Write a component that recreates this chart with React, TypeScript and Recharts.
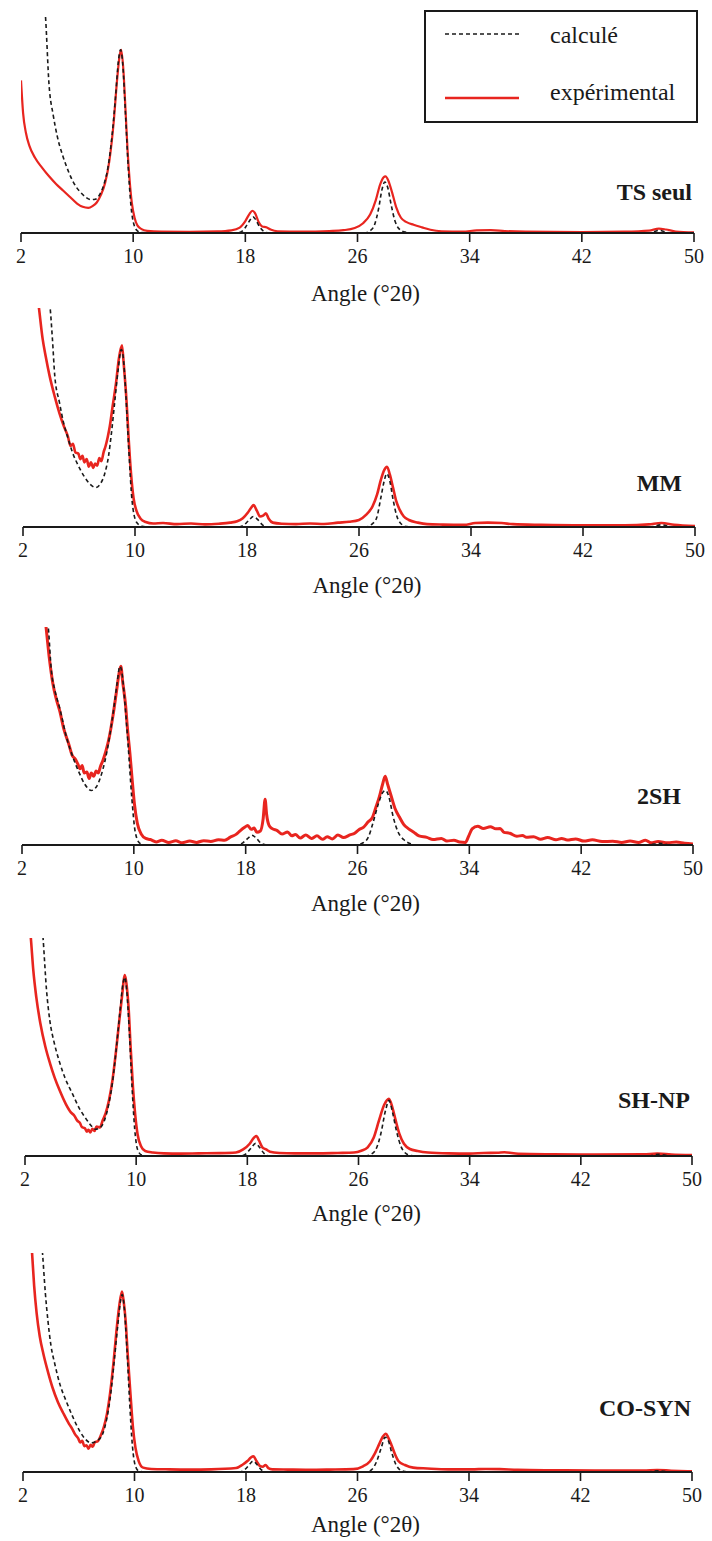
import { LineChart, Line, XAxis, YAxis, Legend } from "recharts";

type Pt = [number, number];

// x axis: angle in °2θ; y: relative intensity, 100 = top of the plot frame
const ANGLE_TICKS = [2, 10, 18, 26, 34, 42, 50];
const X_TITLE = "Angle (°2θ)";
const CALC_NAME = "calculé";
const EXP_NAME = "expérimental";
const SAMPLE_NAMES = ["TS seul", "MM", "2SH", "SH-NP", "CO-SYN"];

const tsExp: Pt[] = [
  [2.0, 70], [2.15, 55], [2.35, 46], [2.6, 40], [3.0, 34.5], [3.5, 30], [4.0, 26], [4.5, 22.5],
  [5.0, 19.5], [5.5, 16.5], [6.0, 13.5], [6.4, 12], [6.8, 11.5], [7.1, 12.3], [7.4, 14], [7.7, 17.5],
  [8.0, 23], [8.3, 33], [8.6, 50], [8.85, 70], [9.05, 82], [9.15, 84], [9.3, 75], [9.45, 57],
  [9.6, 38], [9.75, 24], [9.9, 14], [10.1, 7], [10.3, 3.5], [10.6, 1.8], [11.0, 1.0], [12, 0.6],
  [14, 0.5], [16, 0.7], [17, 1.2], [17.6, 2.5], [18.0, 5.5], [18.3, 8.8], [18.5, 10.2], [18.7, 9],
  [18.95, 5], [19.2, 3], [19.5, 2.6], [19.8, 1.6], [20.3, 0.8], [22, 0.6], [24, 0.9], [25, 1.3],
  [25.8, 2.3], [26.4, 4.5], [26.9, 8.5], [27.3, 15], [27.6, 22], [27.85, 25.5], [28.0, 26], [28.2, 24],
  [28.45, 19], [28.75, 12], [29.1, 7], [29.5, 5], [30.0, 3.8], [30.6, 2.6], [31.2, 1.5], [32, 0.8],
  [33.5, 0.6], [34.5, 1.2], [35.5, 1.3], [36.5, 0.9], [38, 0.6], [42, 0.4], [45, 0.6], [46.8, 1.1],
  [47.5, 2], [48, 1.6], [48.7, 0.7], [50, 0.3],
];
const tsCalc: Pt[] = [
  [3.5, 115], [3.74, 100], [4.0, 68], [4.3, 54], [4.6, 44], [5.0, 35], [5.4, 28], [5.8, 22.5],
  [6.2, 19], [6.6, 16.5], [7.0, 15.3], [7.3, 15.5], [7.6, 17.5], [7.9, 22], [8.2, 30], [8.5, 45],
  [8.75, 63], [8.95, 79], [9.1, 84], [9.25, 78], [9.45, 55], [9.65, 30], [9.85, 12], [10.05, 4],
  [10.3, 1], [10.6, 0.2], [12, 0], [17.4, 0], [17.8, 1], [18.1, 3.5], [18.4, 6.5], [18.55, 7.4],
  [18.75, 6], [19.0, 3], [19.3, 0.8], [19.7, 0], [26.5, 0], [26.9, 1], [27.2, 3.5], [27.5, 11],
  [27.75, 20], [27.95, 23.4], [28.15, 21], [28.4, 13], [28.65, 6], [28.95, 2], [29.4, 0.4], [30, 0],
  [46.8, 0], [47.5, 1.2], [48.3, 0], [50, 0],
];

const mmExp: Pt[] = [
  [2.9, 112], [3.14, 100], [3.4, 86], [3.62, 78], [3.9, 69], [4.27, 59.5], [4.6, 52], [4.92, 46],
  [5.2, 41.5], [5.4, 37], [5.56, 38], [5.75, 34], [5.95, 33.5], [6.1, 31], [6.25, 32.5], [6.38, 29.5],
  [6.55, 31], [6.7, 27.5], [6.85, 29.5], [7.02, 27], [7.15, 29], [7.3, 28], [7.45, 31.5], [7.6, 30],
  [7.75, 34], [7.9, 37], [8.05, 41], [8.2, 46], [8.4, 55], [8.65, 66], [8.85, 77], [9.07, 83],
  [9.2, 74], [9.39, 58], [9.55, 40], [9.72, 24], [9.9, 13], [10.1, 7.5], [10.4, 3.8], [10.76, 2.3],
  [11.3, 1.6], [12, 1.8], [13, 1.3], [14, 1.6], [15, 1.2], [16, 1.5], [16.8, 2], [17.3, 2.6],
  [17.7, 4], [18.05, 6.5], [18.3, 8.8], [18.47, 10], [18.7, 7.5], [18.93, 4.8], [19.15, 5.2], [19.35, 6.2],
  [19.55, 3.8], [19.84, 2], [20.5, 1.5], [21.5, 1.3], [22.5, 1.6], [23.5, 1.4], [24.5, 2], [25.3, 2.4],
  [26.0, 3.2], [26.5, 5.5], [26.97, 9.5], [27.3, 15], [27.56, 21.5], [27.8, 26], [28.0, 27.5], [28.2, 24],
  [28.43, 18], [28.65, 12], [28.91, 7.8], [29.2, 4.8], [29.56, 3.2], [30.2, 2], [30.86, 1.3], [32, 1.1],
  [33.5, 1], [34.3, 1.8], [35.2, 2], [36.2, 1.8], [37, 1.3], [39, 1], [42, 0.8], [45, 0.8],
  [46.7, 1.2], [47.6, 1.8], [48.5, 1], [50, 0.4],
];
const mmCalc: Pt[] = [
  [3.7, 112], [3.94, 100], [4.1, 86], [4.27, 69], [4.6, 57], [4.92, 47], [5.24, 40], [5.56, 33.6],
  [5.95, 28], [6.38, 23], [6.8, 19.5], [7.19, 18], [7.5, 19.5], [7.84, 24.4], [8.1, 32], [8.32, 43],
  [8.55, 57], [8.8, 72], [9.02, 81], [9.15, 78], [9.35, 60], [9.55, 36], [9.79, 12], [10.1, 2.3],
  [10.5, 0.3], [11, 0], [17.4, 0], [17.8, 1], [18.15, 3.2], [18.45, 4.8], [18.75, 3.5], [19.1, 1],
  [19.5, 0], [26.5, 0], [26.9, 1.2], [27.25, 4], [27.55, 13], [27.8, 21], [27.98, 24.4], [28.2, 21],
  [28.45, 12], [28.7, 5], [29.0, 1.5], [29.4, 0.2], [30, 0], [46.8, 0], [47.6, 1], [48.4, 0], [50, 0],
];

const shExp: Pt[] = [
  [3.5, 112], [3.72, 100], [3.95, 86], [4.21, 74], [4.45, 67], [4.69, 61.7], [5.0, 53], [5.34, 46.4],
  [5.6, 41], [5.8, 39.5], [5.99, 37.2], [6.15, 35], [6.3, 36.5], [6.45, 33], [6.64, 33.5], [6.8, 30.5],
  [6.95, 33], [7.13, 31.5], [7.3, 34], [7.45, 33], [7.61, 36], [7.8, 39], [8.0, 43], [8.26, 50],
  [8.5, 59], [8.75, 70], [8.95, 79], [9.07, 82], [9.2, 75], [9.4, 64.8], [9.55, 53], [9.72, 42],
  [9.88, 30], [10.04, 19], [10.25, 10], [10.53, 5], [10.85, 3], [11.18, 2.5], [11.6, 1.4], [12.0, 2.2],
  [12.5, 1.2], [13.0, 1.9], [13.45, 1], [14.0, 1.8], [14.5, 1.2], [15.0, 2], [15.5, 1.6], [16.05, 2.4],
  [16.5, 2.2], [16.9, 3.6], [17.34, 5], [17.6, 6.5], [17.9, 8], [18.15, 8.9], [18.4, 7.2], [18.6, 7.8],
  [18.8, 5.8], [19.05, 6.4], [19.25, 12], [19.39, 21], [19.5, 14], [19.68, 8.9], [19.9, 7.5], [20.26, 6.6],
  [20.6, 5], [21.0, 6], [21.3, 4.2], [21.56, 4.8], [21.9, 3.2], [22.3, 4.6], [22.7, 3], [23.1, 4.2],
  [23.5, 2.6], [23.83, 3.8], [24.2, 2.8], [24.6, 4.6], [25.0, 3.4], [25.45, 4.6], [25.8, 5.4], [26.1, 7],
  [26.42, 8.1], [26.75, 10.5], [27.07, 12.7], [27.3, 17], [27.56, 22], [27.8, 28], [27.98, 31.5], [28.15, 28],
  [28.43, 22], [28.7, 16.5], [29.01, 12.7], [29.3, 9.5], [29.66, 7.4], [30.0, 6], [30.4, 4.2], [30.96, 3.5],
  [31.4, 2.5], [32.0, 3], [32.4, 1.8], [32.9, 2.2], [33.3, 1.4], [33.72, 1.2], [33.95, 4], [34.2, 7.4],
  [34.6, 8.6], [35.0, 7.6], [35.5, 8.4], [35.9, 7.4], [36.2, 7.6], [36.48, 5.8], [36.9, 5.4], [37.4, 4],
  [37.8, 4.4], [38.09, 3.5], [38.6, 3.8], [39.1, 2.6], [39.6, 3.4], [40.2, 2.4], [40.6, 3], [41.0, 2.3],
  [41.6, 2.8], [42.2, 1.8], [42.8, 2.4], [43.5, 1.6], [44.26, 1.7], [44.9, 1.2], [45.5, 1.8], [46.1, 1.2],
  [46.6, 2.2], [47.0, 1], [47.5, 1.6], [48.2, 1], [48.8, 1.4], [49.4, 0.8], [50, 0.5],
];
const shCalc: Pt[] = [
  [3.65, 112], [3.88, 100], [4.1, 80], [4.35, 71], [4.69, 63], [5.2, 49], [5.66, 40], [6.1, 33],
  [6.48, 28], [6.96, 25], [7.3, 26.5], [7.61, 31], [7.95, 39], [8.26, 49.5], [8.55, 62], [8.8, 74],
  [9.0, 82], [9.15, 79], [9.35, 66], [9.6, 45], [9.85, 22], [10.1, 6], [10.4, 1], [10.8, 0],
  [17.4, 0], [17.8, 1], [18.15, 3], [18.45, 4.5], [18.75, 3.2], [19.1, 0.8], [19.5, 0], [25.8, 0],
  [26.4, 1], [26.8, 4], [27.1, 10], [27.5, 19], [27.8, 24], [28.0, 25], [28.25, 22], [28.55, 13],
  [28.9, 6], [29.3, 2.5], [29.7, 0.8], [30.2, 0], [46.8, 0], [47.6, 0.8], [48.4, 0], [50, 0],
];

const npExp: Pt[] = [
  [2.2, 115], [2.42, 100], [2.6, 85], [2.81, 73], [3.1, 61], [3.47, 50], [3.8, 42.5], [4.12, 36.2],
  [4.5, 30], [4.94, 23.8], [5.3, 20], [5.55, 18.5], [5.76, 16.2], [5.95, 15.2], [6.1, 13.2], [6.3, 12.8],
  [6.45, 11.2], [6.57, 12], [6.7, 10.8], [6.85, 12.5], [7.0, 11.5], [7.15, 13.5], [7.39, 13.1], [7.6, 16.5],
  [7.8, 19.5], [8.04, 25.4], [8.3, 35], [8.53, 47], [8.75, 60], [8.96, 72], [9.19, 83], [9.32, 78],
  [9.45, 68.5], [9.6, 50], [9.77, 31.5], [9.93, 19], [10.1, 10], [10.35, 4.5], [10.65, 2.3], [11.2, 1.6],
  [12, 1.2], [13.2, 1.1], [14.5, 1.2], [16, 1.3], [17.18, 1.6], [17.7, 3], [18.17, 5.6], [18.45, 8.2],
  [18.65, 9.2], [18.85, 7], [19.08, 4], [19.35, 3], [19.63, 2], [20.3, 1.4], [21.4, 1.2], [23, 1.2],
  [24.5, 1.4], [25.67, 1.6], [26.2, 2.4], [26.66, 4], [27.1, 8.5], [27.47, 16.2], [27.85, 23.5], [28.19, 26.2],
  [28.45, 22], [28.68, 16.2], [28.95, 10], [29.27, 5.6], [29.7, 3.2], [30.25, 2.3], [31, 1.6], [32.5, 1.2],
  [34, 1.1], [35, 1.4], [36, 1.5], [36.5, 1.7], [37.5, 1], [40, 0.8], [43, 0.7], [46.5, 0.8],
  [47.5, 1.1], [48.5, 0.7], [50, 0.4],
];
const npCalc: Pt[] = [
  [3.05, 120], [3.3, 100], [3.55, 76], [3.79, 62], [4.1, 52], [4.45, 43.8], [4.9, 35.5], [5.42, 28.5],
  [5.9, 22], [6.41, 16.9], [6.75, 14], [7.06, 12.3], [7.4, 13], [7.71, 16.2], [8.0, 23], [8.3, 34],
  [8.55, 48], [8.8, 64], [9.05, 79], [9.18, 82], [9.32, 76], [9.5, 58], [9.7, 32], [9.9, 12],
  [10.1, 3], [10.4, 0.4], [10.8, 0], [17.5, 0], [17.9, 1], [18.25, 3.5], [18.6, 5.8], [18.9, 3.8],
  [19.2, 1.2], [19.6, 0], [26.5, 0], [26.9, 0.8], [27.25, 3], [27.6, 10], [27.95, 21], [28.2, 25.5],
  [28.45, 20], [28.75, 11], [29.05, 4.5], [29.35, 1.5], [29.7, 0.3], [30.2, 0], [46.8, 0], [47.6, 0.8],
  [48.4, 0], [50, 0],
];

const coExp: Pt[] = [
  [2.45, 115], [2.65, 100], [2.8, 85], [2.98, 72.4], [3.2, 62], [3.46, 54], [3.8, 45.5], [4.11, 38.7],
  [4.5, 32], [4.93, 26.4], [5.3, 22], [5.55, 19.5], [5.74, 17.2], [5.95, 15.5], [6.1, 13.5], [6.25, 14.2],
  [6.4, 11.8], [6.56, 12.2], [6.7, 10.6], [6.85, 12.4], [7.0, 11.5], [7.15, 13.6], [7.37, 14.1], [7.6, 17],
  [7.8, 20.5], [8.02, 26.4], [8.25, 36], [8.51, 51], [8.7, 64], [8.9, 75.5], [9.1, 82.4], [9.22, 78],
  [9.36, 69.3], [9.52, 53], [9.71, 35.6], [9.88, 21], [10.07, 11], [10.3, 5], [10.62, 2], [11.2, 1.4],
  [12.5, 1.2], [14, 1.1], [15.5, 1.2], [17.29, 1.8], [17.75, 3.3], [18.1, 5], [18.35, 6.6], [18.53, 7.2],
  [18.75, 5], [18.99, 2.8], [19.2, 2.4], [19.4, 3.2], [19.6, 1.8], [19.9, 1.2], [21, 1.1], [22.5, 1],
  [24, 1.1], [25.7, 1.3], [26.4, 2.6], [26.9, 4.9], [27.25, 8.5], [27.55, 12.6], [27.8, 16], [28.04, 17.5],
  [28.2, 15.8], [28.42, 12.6], [28.7, 8], [28.95, 4.9], [29.4, 3.2], [29.99, 2], [31, 1.6], [32.5, 1.2],
  [34.2, 1.2], [35.2, 1.4], [36.2, 1.3], [37.5, 1], [40, 0.8], [43, 0.7], [46.5, 0.7], [47.5, 0.9],
  [48.5, 0.6], [50, 0.3],
];
const coCalc: Pt[] = [
  [3.15, 120], [3.4, 100], [3.6, 82], [3.79, 69], [4.0, 58], [4.28, 49.4], [4.65, 40], [5.09, 32.5],
  [5.55, 25.5], [6.07, 18.7], [6.45, 15.2], [6.88, 13.3], [7.25, 14], [7.7, 17.2], [8.0, 24], [8.3, 36],
  [8.55, 51], [8.8, 67], [9.02, 79], [9.12, 81], [9.25, 76], [9.45, 57], [9.65, 32], [9.85, 12],
  [10.05, 3], [10.3, 0.5], [10.7, 0], [17.5, 0], [17.9, 1], [18.2, 3], [18.5, 5], [18.8, 3.3],
  [19.1, 1], [19.5, 0], [26.6, 0], [27.0, 1], [27.35, 4.5], [27.7, 11], [27.98, 15.8], [28.2, 14.5],
  [28.45, 9], [28.75, 3.5], [29.05, 1], [29.4, 0.2], [30, 0], [46.8, 0], [47.6, 0.6], [48.4, 0], [50, 0],
];

const RED = "#e8251f";
const INK = "#1a1a1a";
const SERIF = "'Liberation Serif', 'Times New Roman', Times, serif";
const PAD_TOP = 5;

const toPoints = (pts: Pt[]) => pts.map(([x, y]) => ({ x, y }));

// top/bottom = plot frame in page px, titleDrop = axis title baseline below the x axis
const panels = [
  { name: SAMPLE_NAMES[0], exp: tsExp, calc: tsCalc, top: 15, bottom: 233, left: 21, right: 694, titleDrop: 68, labelY: 192, labelRight: 692, redWidth: 2.2 },
  { name: SAMPLE_NAMES[1], exp: mmExp, calc: mmCalc, top: 308, bottom: 527, left: 23, right: 695, titleDrop: 66, labelY: 483, labelRight: 682, redWidth: 2.6 },
  { name: SAMPLE_NAMES[2], exp: shExp, calc: shCalc, top: 627, bottom: 845, left: 22, right: 693, titleDrop: 66, labelY: 796, labelRight: 681, redWidth: 3 },
  { name: SAMPLE_NAMES[3], exp: npExp, calc: npCalc, top: 938, bottom: 1156, left: 25, right: 692, titleDrop: 65, labelY: 1100, labelRight: 690, redWidth: 2.6 },
  { name: SAMPLE_NAMES[4], exp: coExp, calc: coCalc, top: 1253, bottom: 1472, left: 23, right: 692, titleDrop: 60, labelY: 1408, labelRight: 691, redWidth: 2.6 },
];

const AxisTitle = ({ viewBox, drop }: any) => {
  const { x, y, width } = viewBox;
  return (
    <text
      x={x + width / 2 + 8}
      y={y + drop}
      textAnchor="middle"
      fill={INK}
      style={{ fontFamily: SERIF, fontSize: 23 }}
    >
      {X_TITLE}
    </text>
  );
};

const LEGEND_ORDER = [CALC_NAME, EXP_NAME];
const LEGEND_LINE_Y = [24, 88];
const LEGEND_TEXT_Y = [33, 90];

const LegendBox = ({ payload }: any) => {
  const rows = LEGEND_ORDER.map((n) => (payload || []).find((e: any) => e.value === n)).filter(Boolean);
  return (
    <svg width={274} height={113}>
      <rect x={1} y={1} width={272} height={111} fill="#fff" stroke={INK} strokeWidth={2} />
      {rows.map((e: any, i: number) => (
        <g key={e.value}>
          <line
            x1={21}
            x2={95}
            y1={LEGEND_LINE_Y[i]}
            y2={LEGEND_LINE_Y[i]}
            stroke={e.color}
            strokeWidth={e.value === CALC_NAME ? 1.6 : 2.4}
            strokeDasharray={e.value === CALC_NAME ? "4 3" : undefined}
          />
          <text x={126} y={LEGEND_TEXT_Y[i]} fill={INK} style={{ fontFamily: SERIF, fontSize: 24 }}>
            {e.value}
          </text>
        </g>
      ))}
    </svg>
  );
};

const Panel = ({ p, withLegend }: { p: (typeof panels)[number]; withLegend?: boolean }) => {
  const axisH = p.titleDrop + 8;
  const height = PAD_TOP + (p.bottom - p.top) + axisH;
  const top = p.top - PAD_TOP;
  return (
    <div style={{ position: "absolute", left: 0, top, width: 712, height, fontFamily: SERIF }}>
      <LineChart width={712} height={height} margin={{ top: PAD_TOP, right: 712 - p.right, bottom: 0, left: p.left }}>
        <XAxis
          type="number"
          dataKey="x"
          domain={[2, 50]}
          ticks={ANGLE_TICKS}
          allowDataOverflow
          height={axisH}
          axisLine={{ stroke: INK, strokeWidth: 2 }}
          tickLine={{ stroke: INK, strokeWidth: 1.6 }}
          tickSize={9}
          tickMargin={7}
          tick={{ fill: INK, fontSize: 20, fontFamily: SERIF, style: { fontFamily: SERIF } }}
          label={(lp: any) => <AxisTitle viewBox={lp.viewBox} drop={p.titleDrop} />}
        />
        <YAxis
          type="number"
          domain={[0, 100]}
          allowDataOverflow
          width={0}
          tick={false}
          tickLine={false}
          axisLine={{ stroke: INK, strokeWidth: 2 }}
        />
        <Line
          name={EXP_NAME}
          data={toPoints(p.exp)}
          dataKey="y"
          type="monotone"
          stroke={RED}
          strokeWidth={p.redWidth}
          dot={false}
          activeDot={false}
          isAnimationActive={false}
        />
        <Line
          name={CALC_NAME}
          data={toPoints(p.calc)}
          dataKey="y"
          type="monotone"
          stroke={INK}
          strokeWidth={1.6}
          strokeDasharray="4 3"
          dot={false}
          activeDot={false}
          isAnimationActive={false}
        />
        {withLegend && (
          <Legend
            layout="vertical"
            verticalAlign="middle"
            align="center"
            content={<LegendBox />}
            wrapperStyle={{ top: 0, left: 424, width: 274, height: 113 }}
          />
        )}
      </LineChart>
      <div
        style={{
          position: "absolute",
          right: 712 - p.labelRight,
          top: p.labelY - top - 12,
          fontFamily: SERIF,
          fontWeight: "bold",
          fontSize: 24,
          lineHeight: "24px",
          color: INK,
          whiteSpace: "nowrap",
        }}
      >
        {p.name}
      </div>
    </div>
  );
};

export default function App() {
  return (
    <div style={{ position: "absolute", left: 0, top: 0, width: 712, height: 1541, background: "#fff", overflow: "hidden" }}>
      {panels.map((p, i) => (
        <Panel key={p.name} p={p} withLegend={i === 0} />
      ))}
    </div>
  );
}
